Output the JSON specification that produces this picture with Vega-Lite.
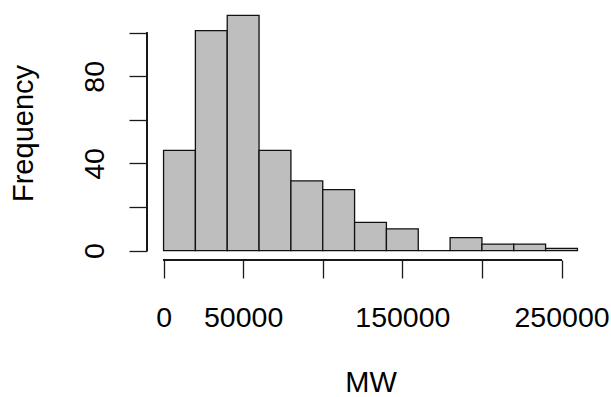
{
  "$schema": "https://vega.github.io/schema/vega-lite/v6.json",
  "width": 447,
  "height": 254,
  "autosize": "none",
  "padding": {"left": 147, "top": 6, "right": 17, "bottom": 137},
  "background": "white",
  "config": {
    "view": {"stroke": null},
    "font": "Liberation Sans",
    "axis": {
      "domain": false,
      "grid": false,
      "ticks": true,
      "tickColor": "#1a1a1a",
      "tickWidth": 1.3,
      "tickSize": 18,
      "labelColor": "black",
      "labelFontSize": 28.5,
      "labelOverlap": false,
      "labelBound": false,
      "labelFlush": false,
      "titleColor": "black",
      "titleFontSize": 29,
      "titleFontWeight": "normal"
    }
  },
  "data": {
    "values": [
      {"bin_start": 0, "bin_end": 20000, "count": 46},
      {"bin_start": 20000, "bin_end": 40000, "count": 101},
      {"bin_start": 40000, "bin_end": 60000, "count": 108},
      {"bin_start": 60000, "bin_end": 80000, "count": 46},
      {"bin_start": 80000, "bin_end": 100000, "count": 32},
      {"bin_start": 100000, "bin_end": 120000, "count": 28},
      {"bin_start": 120000, "bin_end": 140000, "count": 13},
      {"bin_start": 140000, "bin_end": 160000, "count": 10},
      {"bin_start": 160000, "bin_end": 180000, "count": 0},
      {"bin_start": 180000, "bin_end": 200000, "count": 6},
      {"bin_start": 200000, "bin_end": 220000, "count": 3},
      {"bin_start": 220000, "bin_end": 240000, "count": 3},
      {"bin_start": 240000, "bin_end": 260000, "count": 1}
    ]
  },
  "layer": [
    {
      "mark": {"type": "rect", "fill": "#bebebe", "stroke": "#111111", "strokeWidth": 1.3},
      "encoding": {
        "x": {
          "field": "bin_start",
          "type": "quantitative",
          "scale": {"domain": [-10400, 270400], "nice": false, "zero": false},
          "axis": {
            "title": "MW",
            "values": [0, 50000, 100000, 150000, 200000, 250000],
            "format": "d",
            "labelExpr": "(datum.value == 100000 || datum.value == 200000) ? '' : datum.label",
            "labelBaseline": "alphabetic",
            "labelPadding": 48.6,
            "titleBaseline": "alphabetic",
            "titleY": 131.5
          }
        },
        "x2": {"field": "bin_end"},
        "y": {
          "field": "count",
          "type": "quantitative",
          "scale": {"domain": [-4.32, 112.32], "nice": false, "zero": false},
          "axis": {
            "title": "Frequency",
            "values": [0, 20, 40, 60, 80, 100],
            "labelExpr": "datum.value % 40 == 0 ? datum.label : ''",
            "labelAngle": -90,
            "labelAlign": "center",
            "labelBaseline": "alphabetic",
            "labelPadding": 25.4,
            "titleAngle": -90,
            "titleBaseline": "alphabetic",
            "titleX": -115
          }
        },
        "y2": {"datum": 0}
      }
    },
    {
      "mark": {"type": "rule", "stroke": "#1a1a1a", "strokeWidth": 1.3},
      "encoding": {
        "x": {"datum": 0},
        "x2": {"datum": 250000},
        "y": {"datum": -4.32}
      }
    },
    {
      "mark": {"type": "rule", "stroke": "#1a1a1a", "strokeWidth": 1.3},
      "encoding": {
        "x": {"datum": -10400},
        "y": {"datum": 0},
        "y2": {"datum": 100}
      }
    }
  ]
}
